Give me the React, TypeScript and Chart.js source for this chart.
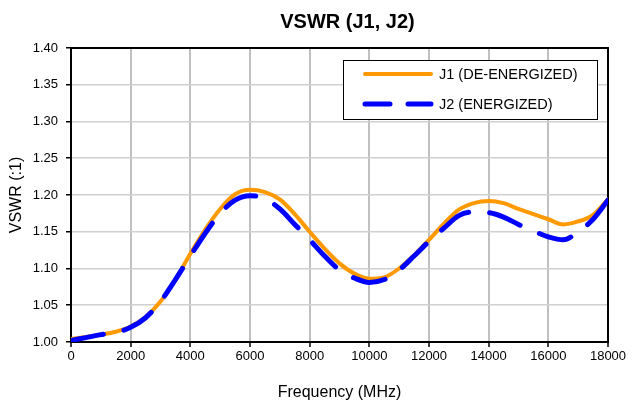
import React, { useEffect, useRef } from "react";
import { Chart, registerables } from "chart.js";

Chart.register(...registerables);

const CHART_TITLE = "VSWR (J1, J2)";
const X_TITLE = "Frequency (MHz)";
const Y_TITLE = "VSWR (:1)";
const SERIES_NAMES = ["J1 (DE-ENERGIZED)", "J2 (ENERGIZED)"];

const FREQ_MHZ = [
  0, 500, 1000, 1500, 2000, 2500, 3000, 3500, 4000, 4500, 5000, 5500, 6000,
  6500, 7000, 7500, 8000, 8500, 9000, 9500, 10000, 10500, 11000, 11500, 12000,
  12500, 13000, 13500, 14000, 14500, 15000, 15500, 16000, 16500, 17000, 17500,
  18000,
];

const J1_DE_ENERGIZED = [
  1.004, 1.007, 1.01, 1.014, 1.021, 1.034, 1.055, 1.085, 1.12, 1.153, 1.181,
  1.201, 1.207, 1.204, 1.194, 1.174, 1.15, 1.127, 1.107, 1.093, 1.086, 1.088,
  1.1, 1.118, 1.139, 1.161, 1.18, 1.189, 1.192, 1.189, 1.181, 1.174, 1.167,
  1.16, 1.164, 1.173, 1.194,
];

const J2_ENERGIZED = [
  1.002, 1.006, 1.01, 1.013, 1.02, 1.033, 1.055, 1.085, 1.117, 1.148, 1.175,
  1.193, 1.199, 1.195, 1.181, 1.16, 1.139, 1.117, 1.098, 1.087, 1.081, 1.085,
  1.098, 1.117, 1.137, 1.155, 1.172, 1.177, 1.176, 1.17, 1.16, 1.151, 1.143,
  1.139, 1.15, 1.167, 1.193,
];

const X_TICKS = [0, 2000, 4000, 6000, 8000, 10000, 12000, 14000, 16000, 18000];
const Y_TICKS = [1.0, 1.05, 1.1, 1.15, 1.2, 1.25, 1.3, 1.35, 1.4];

const FONT = "'Liberation Sans', Arial, sans-serif";
const J1_COLOR = "#ff9900";
const J2_COLOR = "#0000ff";

const framePlugin = {
  id: "frame",
  beforeDatasetsDraw(chart: any) {
    const { ctx, chartArea } = chart;
    ctx.save();
    ctx.strokeStyle = "#000";
    ctx.lineWidth = 2;
    ctx.strokeRect(
      chartArea.left,
      chartArea.top,
      chartArea.right - chartArea.left,
      chartArea.bottom - chartArea.top
    );
    ctx.restore();
  },
};

const titlePlugin = {
  id: "customTitle",
  afterDraw(chart: any) {
    const { ctx, chartArea } = chart;
    ctx.save();
    ctx.fillStyle = "#000";
    ctx.font = `bold 20px ${FONT}`;
    ctx.textAlign = "center";
    ctx.textBaseline = "middle";
    ctx.fillText(CHART_TITLE, (chartArea.left + chartArea.right) / 2 + 8, 22);
    ctx.restore();
  },
};

const boxLegendPlugin = {
  id: "boxLegend",
  afterDraw(chart: any) {
    const { ctx, chartArea } = chart;
    const bx = chartArea.left + 272;
    const by = chartArea.top + 12;
    const bw = 254;
    const bh = 59;
    ctx.save();
    ctx.fillStyle = "#fff";
    ctx.fillRect(bx, by, bw, bh);
    ctx.strokeStyle = "#000";
    ctx.lineWidth = 1;
    ctx.strokeRect(bx + 0.5, by + 0.5, bw, bh);
    const items = [
      { color: J1_COLOR, dash: [] as number[], width: 4, y: by + 14 },
      { color: J2_COLOR, dash: [25, 18], width: 5, y: by + 44 },
    ];
    items.forEach((it, i) => {
      ctx.beginPath();
      ctx.setLineDash(it.dash);
      ctx.lineCap = "round";
      ctx.strokeStyle = it.color;
      ctx.lineWidth = it.width;
      ctx.moveTo(bx + 22, it.y);
      ctx.lineTo(bx + 88, it.y);
      ctx.stroke();
      ctx.setLineDash([]);
      ctx.fillStyle = "#000";
      ctx.font = `14.5px ${FONT}`;
      ctx.textBaseline = "middle";
      ctx.textAlign = "left";
      ctx.fillText(SERIES_NAMES[i], bx + 96, it.y + 1);
    });
    ctx.restore();
  },
};

export default function App() {
  const canvasRef = useRef<HTMLCanvasElement | null>(null);

  useEffect(() => {
    const canvas = canvasRef.current;
    if (!canvas) return;
    const chart = new Chart(canvas, {
      type: "line",
      data: {
        datasets: [
          {
            label: SERIES_NAMES[0],
            order: 2,
            data: FREQ_MHZ.map((f, i) => ({ x: f, y: J1_DE_ENERGIZED[i] })),
            borderColor: J1_COLOR,
            backgroundColor: J1_COLOR,
            borderWidth: 4,
            pointRadius: 0,
            cubicInterpolationMode: "monotone",
            borderCapStyle: "round",
            borderJoinStyle: "round",
          },
          {
            label: SERIES_NAMES[1],
            order: 1,
            data: FREQ_MHZ.map((f, i) => ({ x: f, y: J2_ENERGIZED[i] })),
            borderColor: J2_COLOR,
            backgroundColor: J2_COLOR,
            borderWidth: 5,
            borderDash: [33, 21],
            pointRadius: 0,
            cubicInterpolationMode: "monotone",
            borderCapStyle: "round",
            borderJoinStyle: "round",
          },
        ],
      },
      options: {
        responsive: false,
        animation: false,
        layout: { padding: { top: 48, right: 26, bottom: 0, left: 0 } },
        plugins: {
          legend: { display: false },
          tooltip: { enabled: false },
          title: { display: false },
        },
        scales: {
          x: {
            type: "linear",
            min: 0,
            max: 18000,
            afterFit: (s: any) => {
              s.height = 63;
            },
            afterBuildTicks: (s: any) => {
              s.ticks = X_TICKS.map((v) => ({ value: v }));
            },
            ticks: {
              color: "#000",
              font: { family: FONT, size: 13 },
              padding: 2,
              maxRotation: 0,
              autoSkip: false,
              callback: (v: any) => String(v),
            },
            grid: {
              color: "#c0c0c0",
              lineWidth: 2,
              tickColor: "#000",
              tickLength: 5,
              tickWidth: 1.5,
            },
            border: { display: false },
            title: {
              display: true,
              text: X_TITLE,
              color: "#000",
              font: { family: FONT, size: 16 },
              padding: { top: 3, bottom: 3 },
            },
          },
          y: {
            type: "linear",
            min: 1.0,
            max: 1.4,
            afterFit: (s: any) => {
              s.width = 71;
            },
            afterBuildTicks: (s: any) => {
              s.ticks = Y_TICKS.map((v) => ({ value: v }));
            },
            ticks: {
              color: "#000",
              font: { family: FONT, size: 13 },
              padding: 8,
              autoSkip: false,
              callback: (v: any) => Number(v).toFixed(2),
            },
            grid: {
              color: "#d0d0d0",
              lineWidth: 1.5,
              tickColor: "#000",
              tickLength: 5,
              tickWidth: 1.5,
            },
            border: { display: false },
            title: {
              display: true,
              text: Y_TITLE,
              color: "#000",
              font: { family: FONT, size: 16 },
              padding: { top: 7, bottom: 7 },
            },
          },
        },
      },
      plugins: [framePlugin, boxLegendPlugin, titlePlugin],
    } as any);
    return () => chart.destroy();
  }, []);

  return (
    <div
      style={{
        position: "absolute",
        left: 0,
        top: 0,
        width: 634,
        height: 405,
        background: "#fff",
      }}
    >
      <canvas ref={canvasRef} width={634} height={405} />
    </div>
  );
}
